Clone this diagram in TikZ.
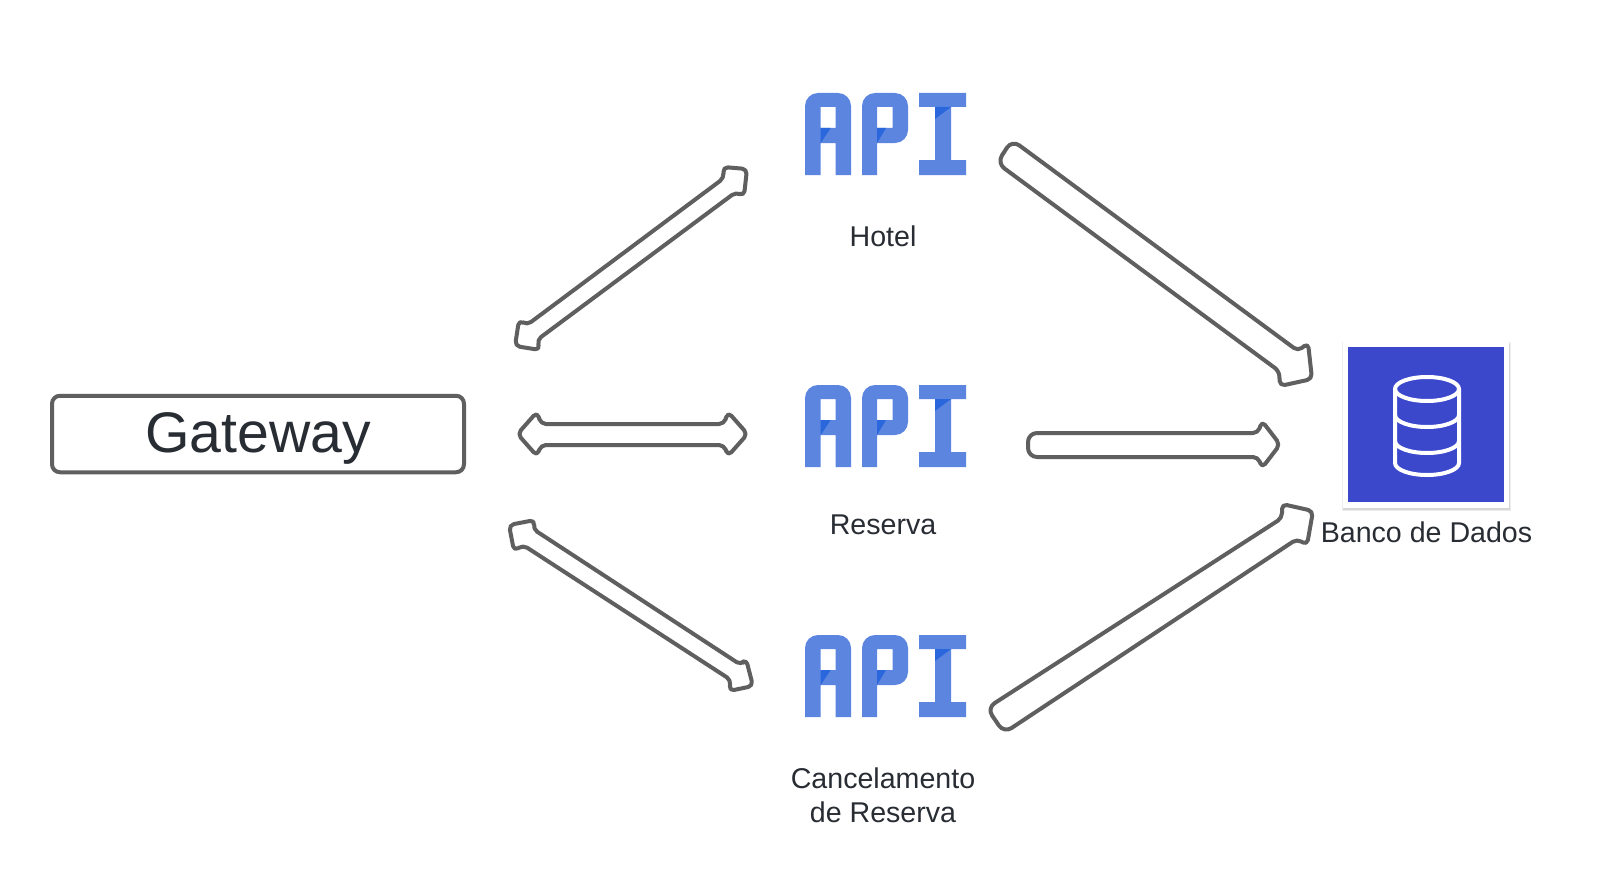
\documentclass[tikz,border=0pt]{standalone}
\usepackage{fontspec}
\setmainfont{Liberation Sans}
\definecolor{inkc}{HTML}{282C33}
\definecolor{linec}{HTML}{5F5F5F}
\definecolor{apic}{HTML}{5C85E0}
\definecolor{apid}{HTML}{2A66DC}
\definecolor{dbc}{HTML}{3B48CC}
\tikzset{
  blockarrow/.style={draw=linec,line width=4pt,fill=white,rounded corners=5pt,line join=round},
  gatewaybox/.style={draw=linec,line width=4pt,fill=white,rounded corners=8pt,minimum width=412pt,minimum height=76.5pt,inner sep=0pt},
  lbl/.style={text=inkc,font=\fontsize{28.6}{33.6}\selectfont,align=center,inner sep=0pt,anchor=base},
  apilogo/.pic={
    \fill[apic,even odd rule] (805,175) [rounded corners=13pt] -- (805,93) -- (851,93) [sharp corners] -- (851,175) -- (835.5,175) -- (835.5,143) -- (820.7,143) -- (820.7,175) -- cycle
      (820.7,107) rectangle (835.5,128);
    \fill[apid] (820.7,128) -- (830.7,128) -- (820.7,143) -- cycle;
    \fill[apic,even odd rule] (862,175) [rounded corners=13pt] -- (862,93) -- (908,93) -- (908,143) [sharp corners] -- (877,143) -- (877,175) -- cycle
      (877,107) rectangle (892.7,128);
    \fill[apid] (877,128) -- (886,128) -- (877,143) -- cycle;
    \fill[apic] (919,93) -- (966,93) -- (966,107) -- (951,107) -- (951,160) -- (966,160) -- (966,175) -- (919,175) -- (919,160) -- (935,160) -- (935,107) -- (919,107) -- cycle;
    \fill[apid] (935,107) -- (951,107) -- (935,119) -- cycle;
  }
}
\begin{document}
\begin{tikzpicture}[x=1pt,y=-1pt]
\useasboundingbox (0,0) rectangle (1600,880);
\fill[white] (0,0) rectangle (1600,880);

% nodes
\node[gatewaybox] (gateway) at (258,434) {};
\node[text=inkc,font=\fontsize{57.2}{60}\selectfont,inner sep=0pt,anchor=base] (gatewaytext) at (258,452) {Gateway};

\pic (apihotel) at (0,0) {apilogo};
\pic (apireserva) at (0,292) {apilogo};
\pic (apicancel) at (0,542) {apilogo};

\node[lbl] (hotel) at (883,246) {Hotel};
\node[lbl] (reserva) at (883,534.5) {Reserva};
\node[lbl] (cancel) at (883,822) {Cancelamento\\de Reserva};

% database icon
\fill[black!7] (1341.5,342) rectangle (1510.5,510.5);
\fill[black!16] (1342.5,344) rectangle (1509.5,509.5);
\node[fill=white,minimum size=166pt,inner sep=0pt] (dbframe) at (1426,425) {};
\node[fill=dbc,minimum size=155.5pt,inner sep=0pt] (db) at (1426,424.7) {};
\begin{scope}[draw=white,line width=4pt]
  \draw (1427,389) ellipse [x radius=32,y radius=12];
  \draw (1395,389) -- (1395,463) arc [start angle=180,end angle=360,x radius=32,y radius=-12] -- (1459,389);
  \draw (1395,415) arc [start angle=180,end angle=360,x radius=32,y radius=-12];
  \draw (1395,441) arc [start angle=180,end angle=360,x radius=32,y radius=-12];
\end{scope}
\node[lbl] (dblabel) at (1426.5,542) {Banco de Dados};

% connector ends
\coordinate (gwhotelA) at (515,346);
\coordinate (gwhotelB) at (747,169);
\coordinate (gwreservaA) at (517.5,434);
\coordinate (gwreservaB) at (747.5,434);
\coordinate (gwcancelA) at (509,525);
\coordinate (gwcancelB) at (753,686);
\coordinate (hoteldb) at (1312,379);
\coordinate (reservadb) at (1280,444.5);
\coordinate (canceldb) at (1313,511);

% connectors
\draw[blockarrow] (723,167) -- (gwhotelB) -- (744,196) -- (736,192) -- (537,340) -- (540,350) -- (gwhotelA) -- (519,320) -- (527,325) -- (724,178) -- cycle;
\draw[blockarrow] (537,412) -- (541,424) -- (724,424) -- (728,412) -- (gwreservaB) -- (728,456) -- (724,445) -- (541,445) -- (537,456) -- (gwreservaA) -- cycle;
\draw[blockarrow] (535,520) -- (gwcancelA) -- (514,551) -- (523,545) -- (731,680) -- (729,691) -- (gwcancelB) -- (746,659) -- (741,665) -- (533,529) -- cycle;
\draw[blockarrow] (1298,351) -- (1308,343) -- (hoteldb) -- (1280,386) -- (1279,371) [rounded corners=9pt] -- (997,163) -- (1012,140) [rounded corners=5pt] -- cycle;
\draw[blockarrow] (1258,433) -- (1262,421) -- (reservadb) -- (1262,468) -- (1258,457) [rounded corners=9pt] -- (1028,457) -- (1028,433) [rounded corners=5pt] -- cycle;
\draw[blockarrow] (1282,518) -- (1282,504) -- (canceldb) -- (1307,545) -- (1297,539) [rounded corners=9pt] -- (1004,733) -- (987,708) [rounded corners=5pt] -- cycle;
\end{tikzpicture}
\end{document}
